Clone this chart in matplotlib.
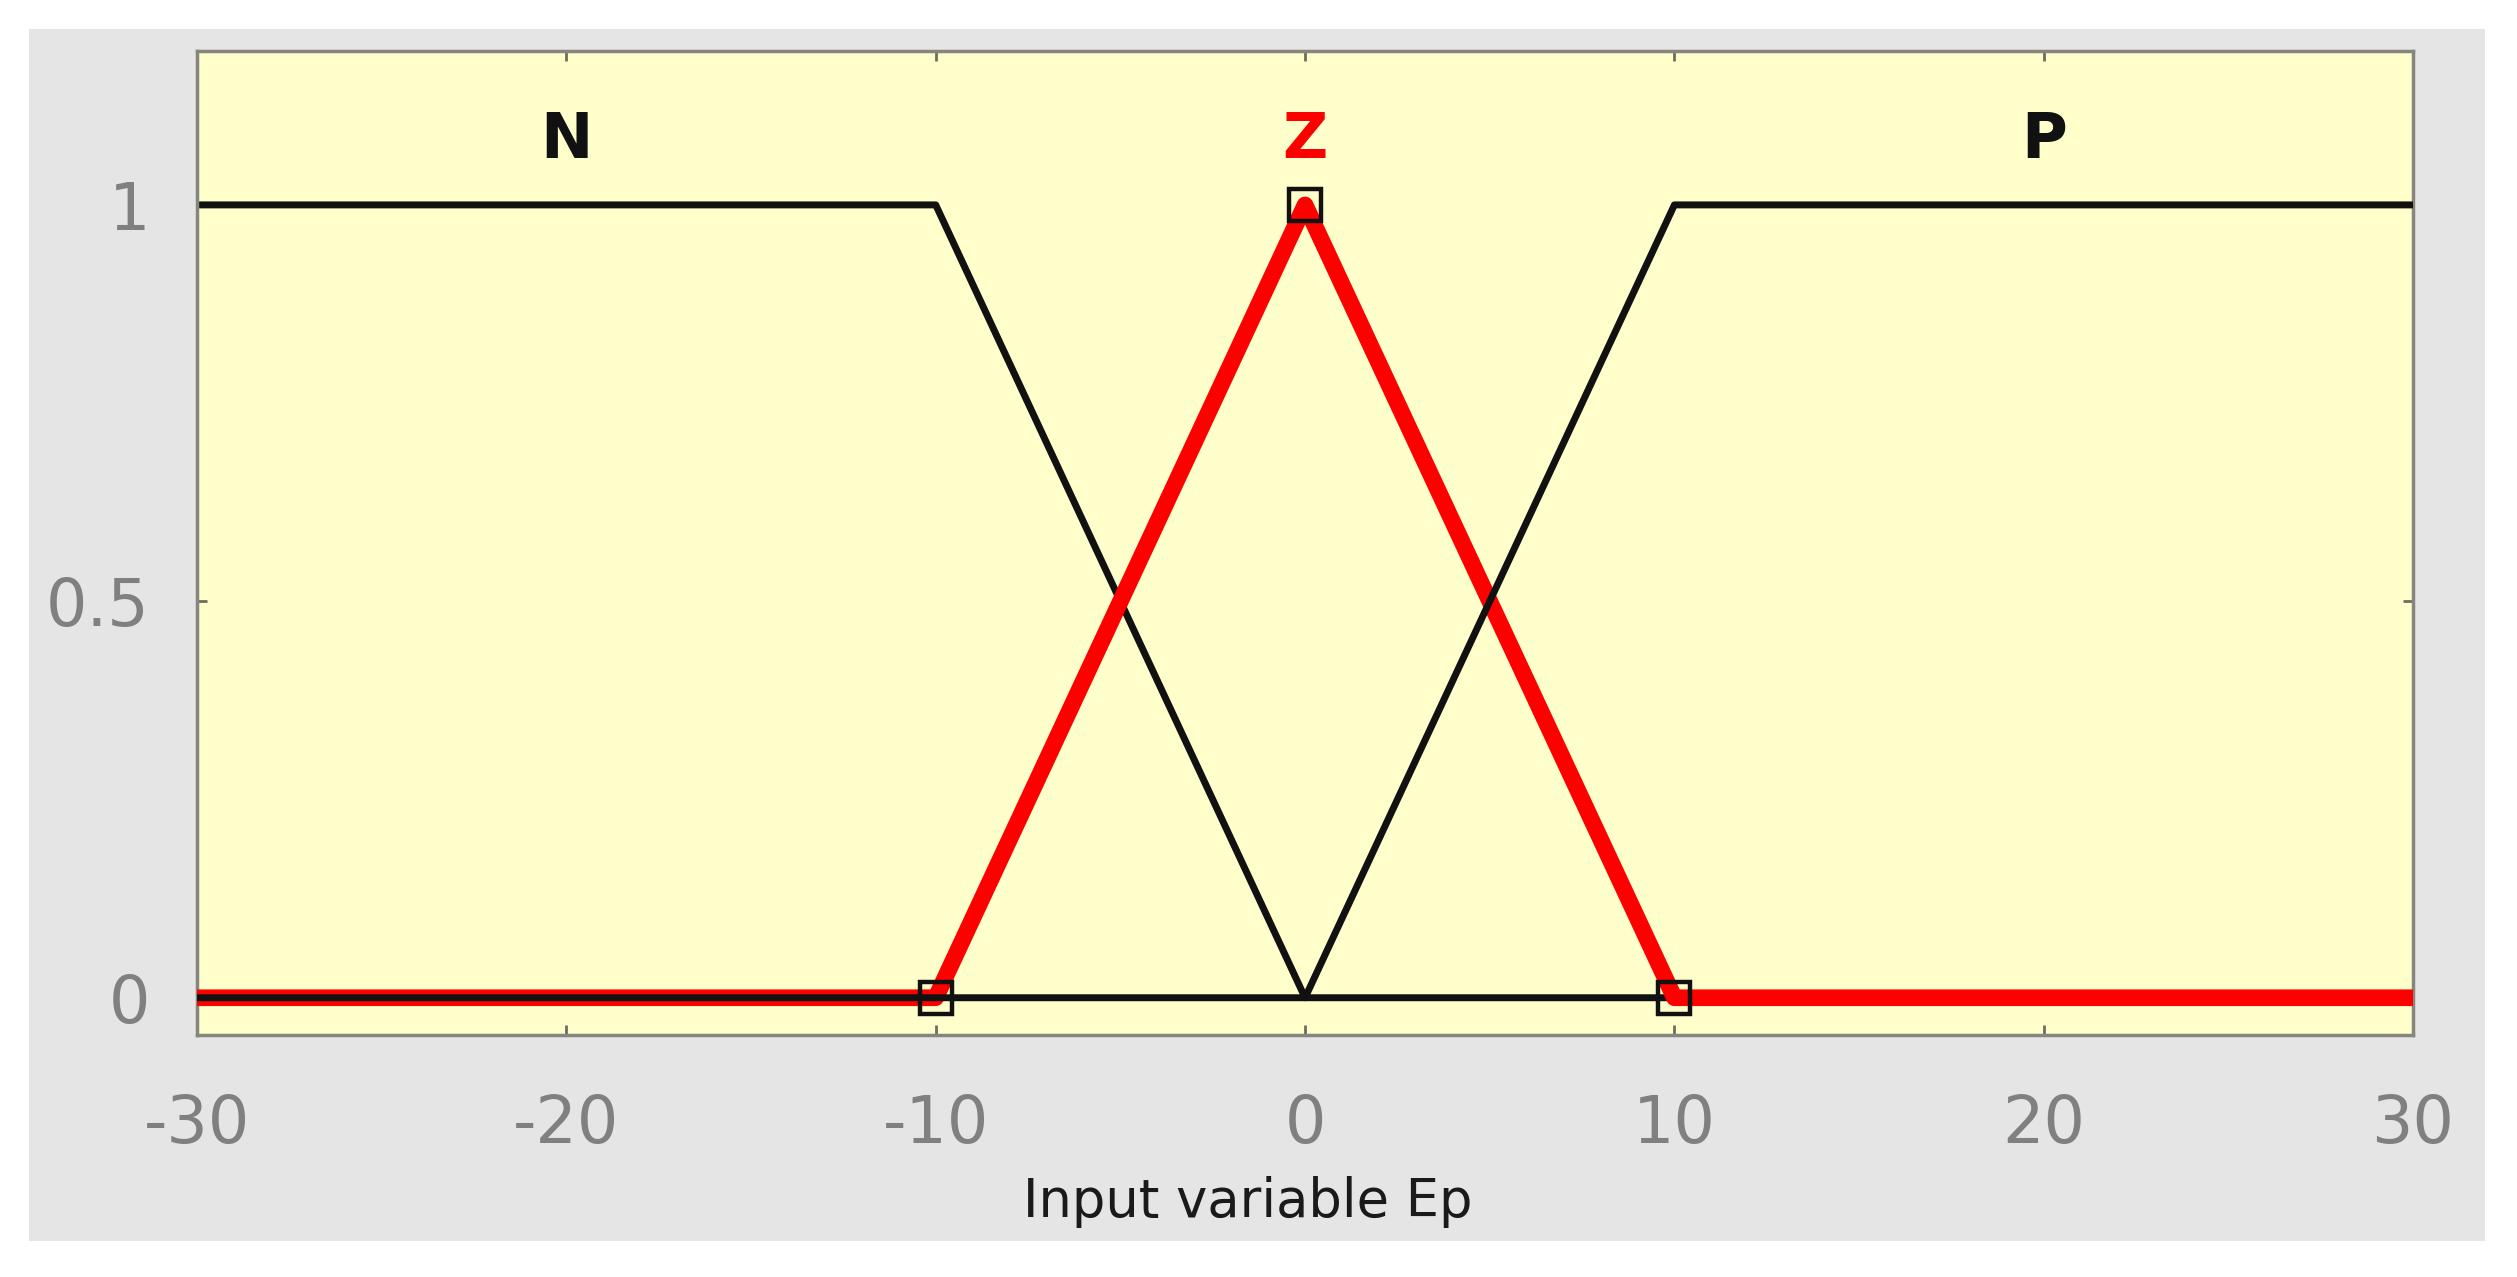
import matplotlib.pyplot as plt
from matplotlib.patches import Rectangle

# membership functions of input Ep (N, Z, P)
mf_names = ['N', 'Z', 'P']
n_x = [-30, -10, 0, 30]
n_y = [1, 1, 0, 0]
z_x = [-30, -10, 0, 10, 30]
z_y = [0, 0, 1, 0, 0]
p_x = [-30, 0, 10, 30]
p_y = [0, 0, 1, 1]
z_params = [-10, 0, 10]
z_param_y = [0, 1, 0]
label_x = [-20, 0, 20]
label_y = 1.08
x_ticks = [-30, -20, -10, 0, 10, 20, 30]
y_ticks = [0, 0.5, 1]
y_tick_labels = ['0', '0.5', '1']

plt.rcParams['font.family'] = ['DejaVu Sans']
plt.rcParams['axes.unicode_minus'] = False

fig = plt.figure(figsize=(25.17, 12.77), dpi=100, facecolor='white')
# grey window background, kept behind the axes
fig.add_artist(Rectangle((0.0115, 0.0282), 0.9758, 0.9491, transform=fig.transFigure,
                         facecolor='#e5e5e5', edgecolor='none', zorder=-10))

ax = fig.add_axes([0.0783, 0.1895, 0.8804, 0.7705])
ax.set_zorder(1)
ax.set_facecolor('#ffffcc')

ax.plot(n_x, n_y, color='#111111', linewidth=5, zorder=2, solid_capstyle='butt')
ax.plot(z_x, z_y, color='#ff0000', linewidth=12, zorder=3, solid_capstyle='butt')
ax.plot(p_x, p_y, color='#111111', linewidth=5, zorder=4, solid_capstyle='butt')
ax.plot(z_params, z_param_y, linestyle='none', marker='s', markersize=23,
        markerfacecolor='none', markeredgecolor='#111111', markeredgewidth=3.2, zorder=5)

colors = ['#111111', '#ff0000', '#111111']
for name, lx, c in zip(mf_names, label_x, colors):
    ax.text(lx, label_y, name, color=c, fontsize=45, fontweight='bold',
            ha='center', va='center')

ax.set_xlim(-30, 30)
ax.set_ylim(-0.047, 1.194)
ax.set_xticks(x_ticks)
ax.set_yticks(y_ticks)
ax.set_yticklabels(y_tick_labels)

ax.tick_params(axis='both', direction='in', length=7, width=2, color='#6e6e60',
               labelcolor='#808080', labelsize=47, top=True, right=True)
ax.tick_params(axis='x', pad=42)
ax.tick_params(axis='y', pad=34)
for s in ax.spines.values():
    s.set_color('#86867e')
    s.set_linewidth(2.5)

ax.set_xlabel('Input variable Ep', fontsize=38, color='#1a1a1a', va='center')
ax.xaxis.set_label_coords(0.474, -0.17)

fig.savefig('out.png', dpi=100, facecolor='white')
